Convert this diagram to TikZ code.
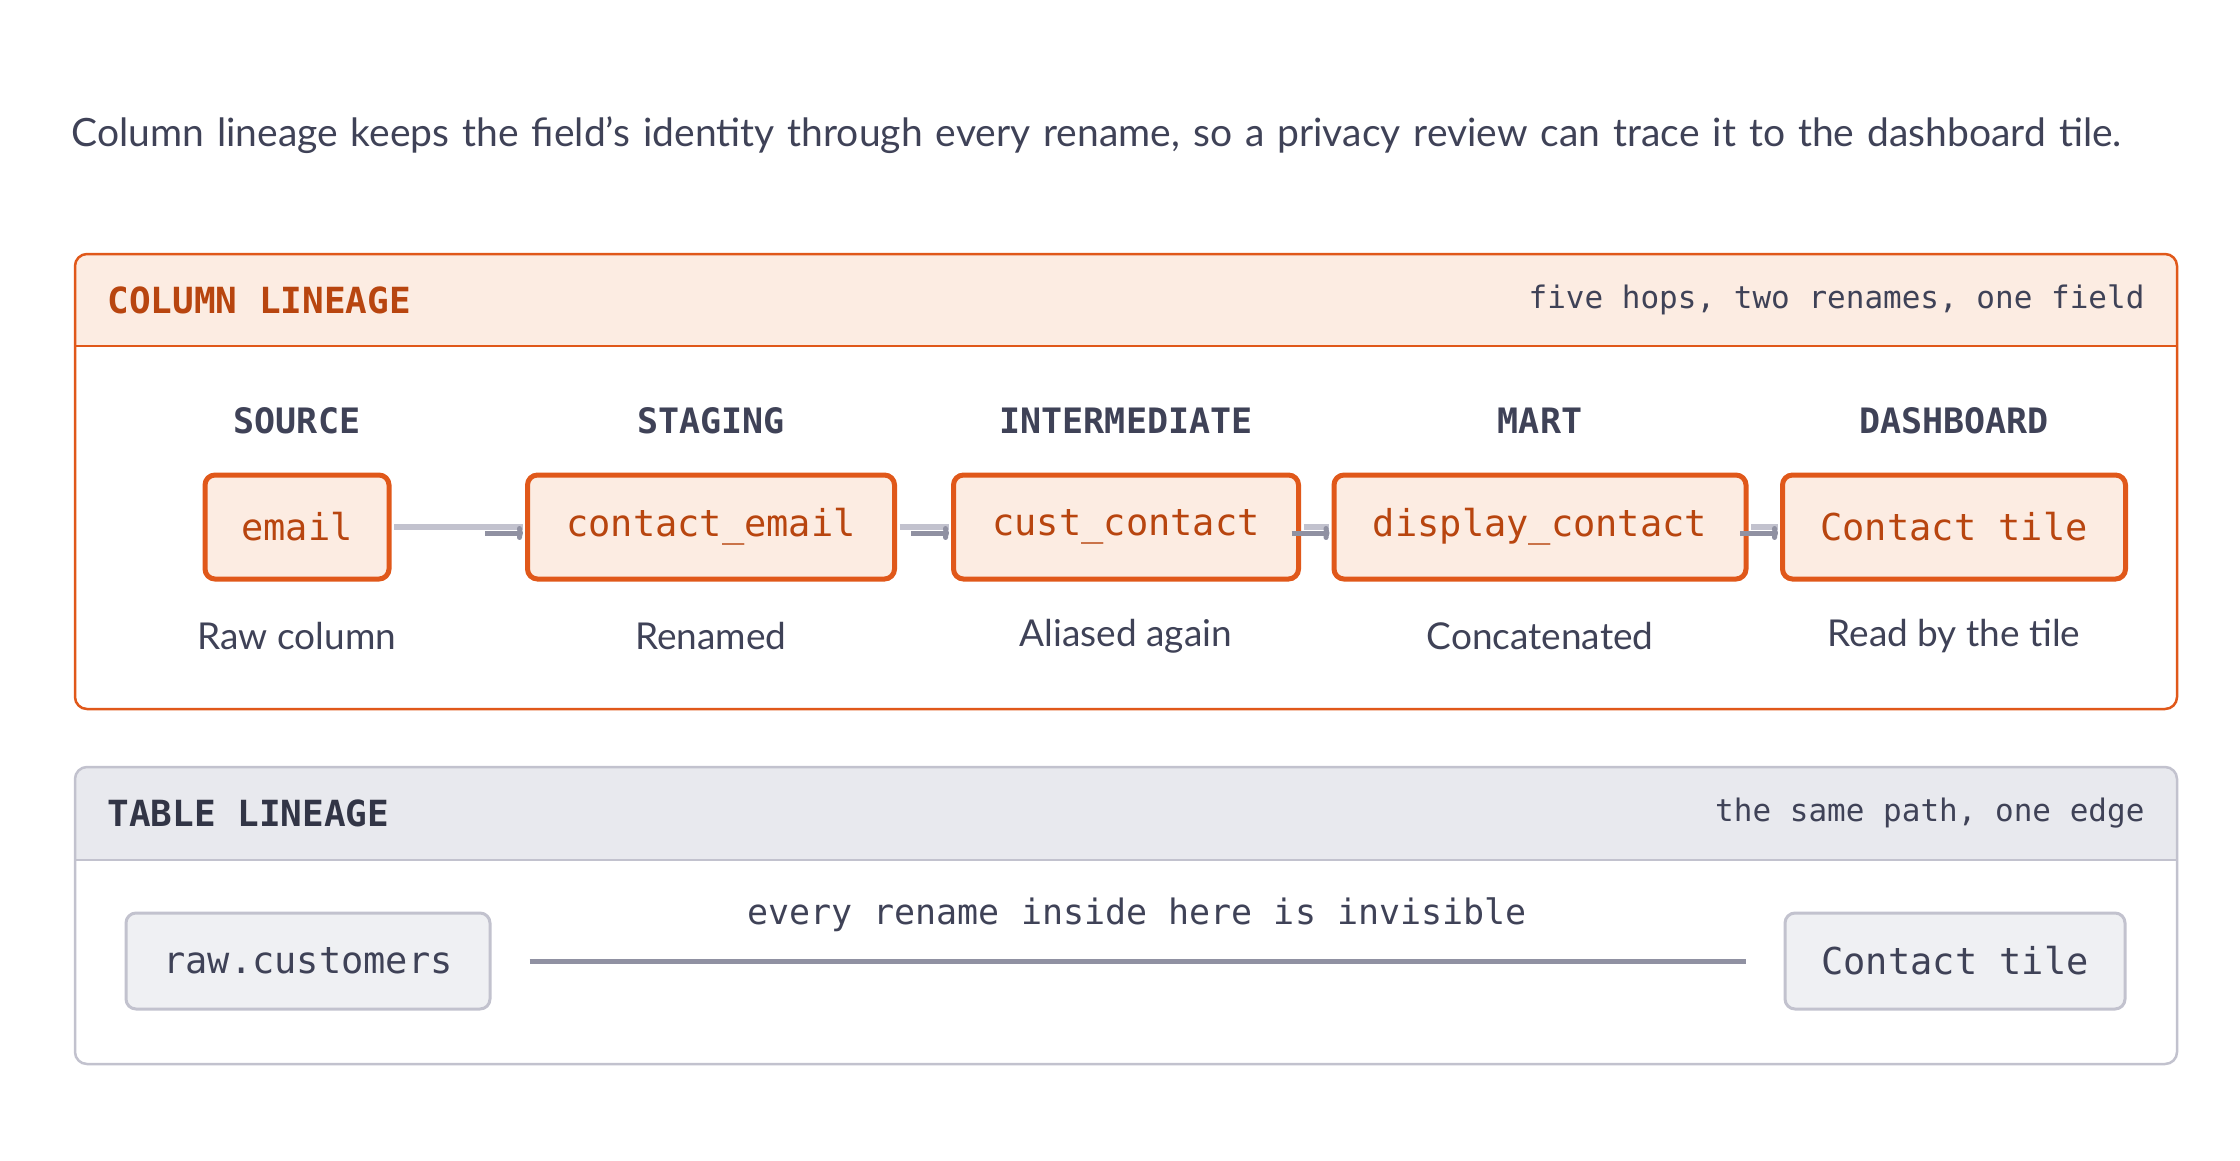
\documentclass[tikz,border=0pt]{standalone}
\usepackage{fontspec}
\setmainfont{Lato}
\newfontfamily\monofont{DejaVu Sans Mono}
\usetikzlibrary{positioning,arrows.meta}
\definecolor{ink}{HTML}{3F4257}
\definecolor{rust}{HTML}{E0581A}
\definecolor{rustdark}{HTML}{B8450F}
\definecolor{peach}{HTML}{FCECE2}
\definecolor{mist}{HTML}{E8E9EE}
\definecolor{edgegrey}{HTML}{C2C2CE}
\definecolor{linegrey}{HTML}{9091A2}
\tikzset{
  panel/.style={draw=#1,line width=2.5pt,rounded corners=12pt},
  colnode/.style={draw=rust,fill=peach,line width=5pt,rounded corners=10pt,
    text=rustdark,font=\monofont\fontsize{37}{40}\selectfont,minimum height=104pt,inner xsep=12pt},
  tblnode/.style={draw=edgegrey,fill=mist!70,line width=3pt,rounded corners=10pt,
    text=ink,font=\monofont\fontsize{37}{40}\selectfont,minimum height=96pt,inner xsep=12pt},
  stage/.style={text=ink,font=\monofont\bfseries\fontsize{35}{38}\selectfont},
  note/.style={text=ink,font=\fontsize{37}{40}\selectfont},
  head/.style={font=\monofont\bfseries\fontsize{36}{40}\selectfont,anchor=west},
  tag/.style={text=ink,font=\monofont\fontsize{31}{34}\selectfont,anchor=east},
}
\begin{document}
\begin{tikzpicture}[x=1pt,y=-1pt]
  \useasboundingbox (0,0) rectangle (2240,1160);
  \node[note,anchor=west,align=left,text width=2150pt,font=\fontsize{39}{65}\selectfont]
    (intro) at (68,135) {Column lineage keeps the field's identity through every rename, so a privacy review can trace it to the dashboard tile.};

  % column lineage panel
  \begin{scope}
    \clip[rounded corners=12pt] (75,254) rectangle (2177,709);
    \fill[peach] (75,254) rectangle (2177,346);
  \end{scope}
  \draw[rust,line width=2.5pt] (75,346) -- (2177,346);
  \draw[panel=rust] (75,254) rectangle (2177,709);
  \node[head,text=rustdark] (colhead) at (104,300) {COLUMN LINEAGE};
  \node[tag] (coltag) at (2148,300) {five hops, two renames, one field};

  \node[colnode,minimum width=184pt] (src) at (297,527) {email};
  \node[colnode,minimum width=367pt] (stg) at (711,527) {contact\_email};
  \node[colnode,minimum width=345pt] (int) at (1126,527) {cust\_contact};
  \node[colnode,minimum width=412pt] (mart) at (1540,527) {display\_contact};
  \node[colnode,minimum width=343pt] (dash) at (1954,527) {Contact tile};

  \foreach \n/\s/\d in {src/SOURCE/Raw column,stg/STAGING/Renamed,int/INTERMEDIATE/Aliased again,
      mart/MART/Concatenated,dash/DASHBOARD/Read by the tile} {
    \node[stage] (\n-stage) at (\n |- 0,421) {\s};
    \node[note] (\n-note) at (\n |- 0,636) {\d};
  }

  \foreach \a/\b in {src/stg,stg/int,int/mart,mart/dash} {
    \draw[edgegrey,line width=6pt,shorten <=2.5pt,shorten >=2.5pt] (\a.east) -- (\b.west);
    \draw[linegrey,line width=5pt,-{To[length=6pt,width=14pt]}]
      ([xshift=-40pt,yshift=-6pt]\b.west) coordinate (\a-tip) -- ([xshift=-2pt,yshift=-6pt]\b.west);
  }

  % table lineage panel
  \begin{scope}
    \clip[rounded corners=12pt] (75,767) rectangle (2177,1064);
    \fill[mist] (75,767) rectangle (2177,860);
  \end{scope}
  \draw[edgegrey,line width=2.5pt] (75,860) -- (2177,860);
  \draw[panel=edgegrey] (75,767) rectangle (2177,1064);
  \node[head,text=ink!80!black] (tblhead) at (104,813) {TABLE LINEAGE};
  \node[tag] (tbltag) at (2148,813) {the same path, one edge};

  \node[tblnode,minimum width=364pt] (raw) at (308,961) {raw.customers};
  \node[tblnode,minimum width=340pt] (tile) at (1955,961) {Contact tile};
  \draw[linegrey,line width=5pt] ([xshift=38pt]raw.east) coordinate (l0) -- ([xshift=-38pt]tile.west) coordinate (l1);
  \node[text=ink,font=\monofont\fontsize{35}{38}\selectfont] (hide) at (1137,915) {every rename inside here is invisible};
\end{tikzpicture}
\end{document}
